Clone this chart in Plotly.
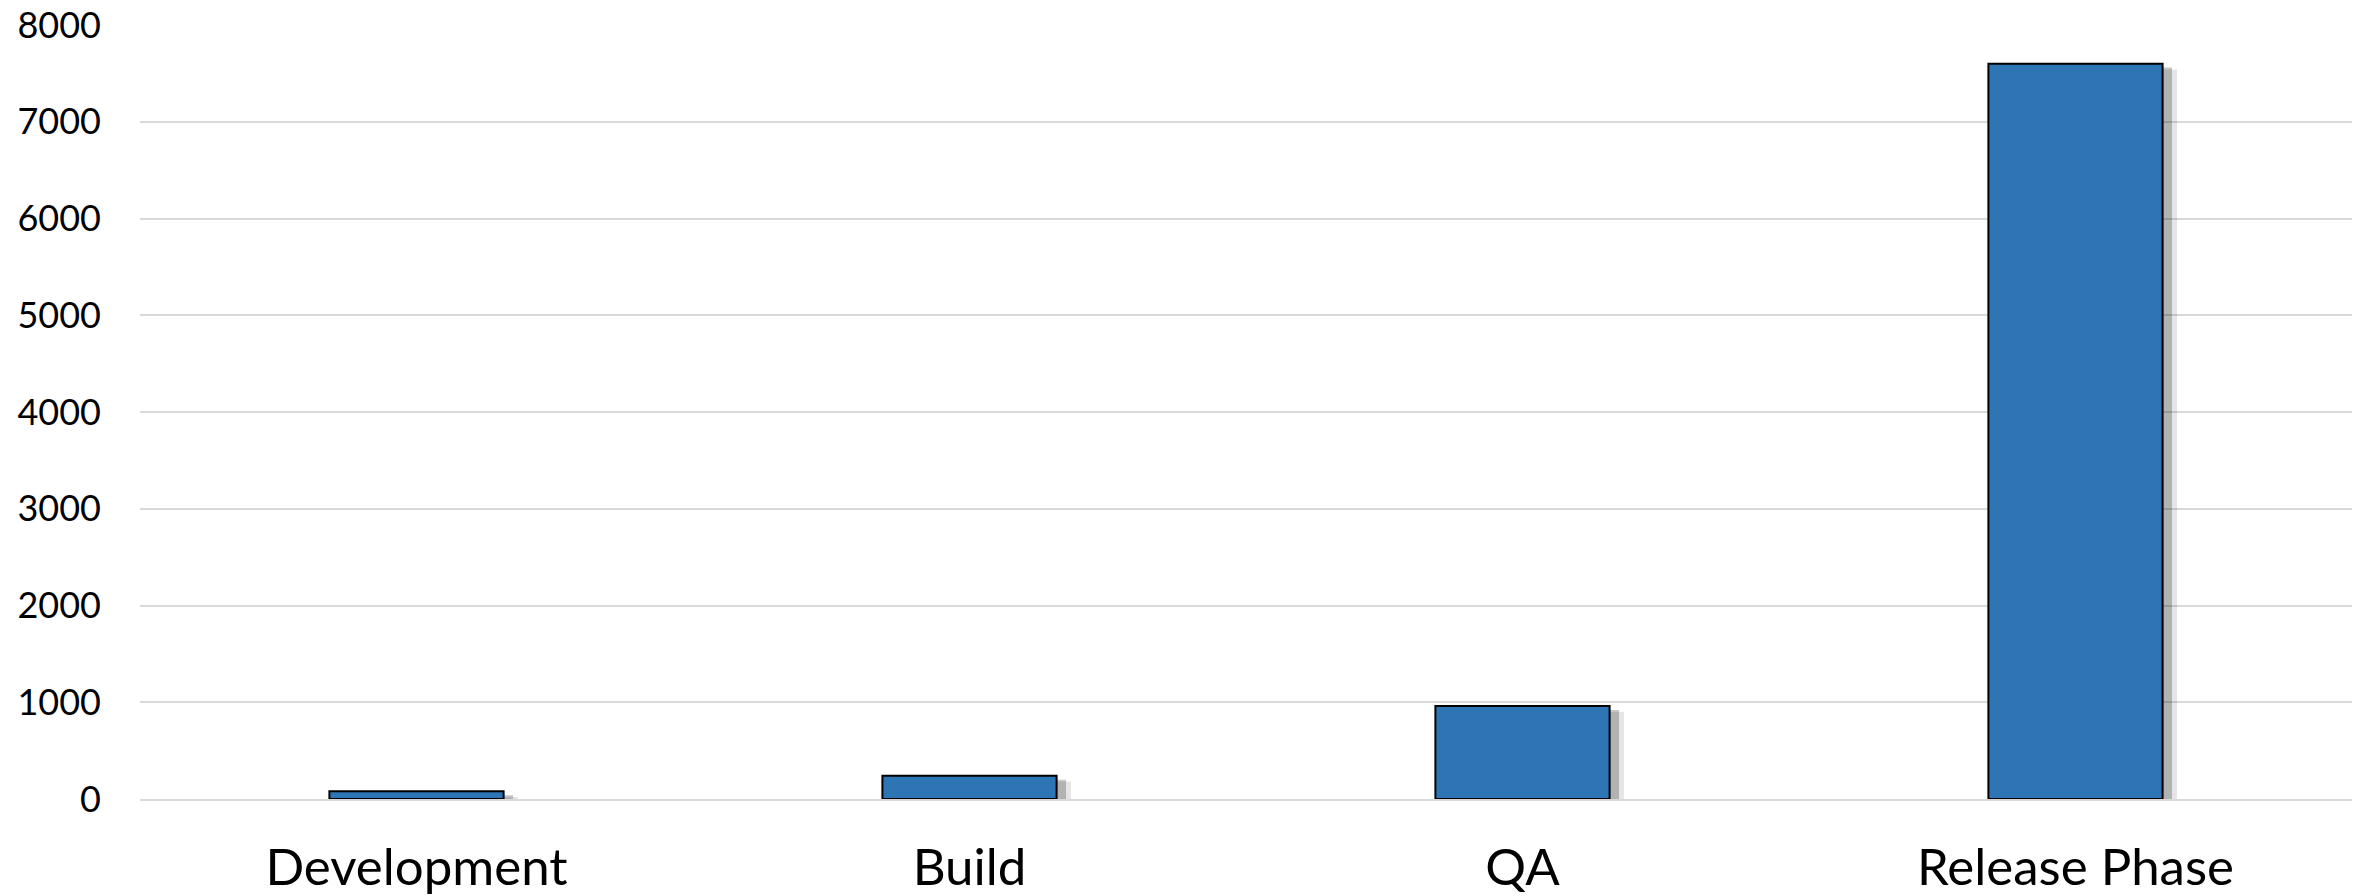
import plotly.graph_objects as go

categories = ["Development", "Build", "QA", "Release Phase"]
values = [80, 240, 960, 7600]
y_ticks = [0, 1000, 2000, 3000, 4000, 5000, 6000, 7000, 8000]

BAR_W = 0.315
FONT = "Lato, 'Open Sans', sans-serif"

fig = go.Figure()
# soft drop shadow layers
for dx, base, col in [(0.026, -60, "rgba(0,0,0,0.10)"), (0.017, -40, "rgba(0,0,0,0.22)")]:
    fig.add_trace(go.Bar(
        x=categories, y=values, base=base, width=BAR_W, offset=-BAR_W / 2 + dx,
        marker=dict(color=col, line=dict(width=0)), hoverinfo="skip", showlegend=False,
    ))
fig.add_trace(go.Bar(
    x=categories, y=values, width=BAR_W, offset=-BAR_W / 2,
    marker=dict(color="#2E75B6", line=dict(color="#000000", width=2)),
    showlegend=False,
))

fig.update_layout(
    width=2367, height=896,
    margin=dict(l=140, r=15, t=25, b=97),
    barmode="overlay",
    plot_bgcolor="white", paper_bgcolor="white",
    font=dict(family=FONT, color="#000000"),
)
fig.update_yaxes(
    range=[0, 8000], tickvals=y_ticks, ticktext=[str(v) for v in y_ticks],
    showgrid=True, gridcolor="#D9D9D9", gridwidth=1.5,
    zeroline=False, showline=False, automargin=False,
    tickfont=dict(size=36, family=FONT), ticklabelstandoff=38,
)
fig.update_xaxes(
    showgrid=False, showline=True, linecolor="#D9D9D9", linewidth=1.5,
    automargin=False,
    tickfont=dict(size=51, family=FONT), ticklabelstandoff=23,
)
fig.write_html("out.html")
